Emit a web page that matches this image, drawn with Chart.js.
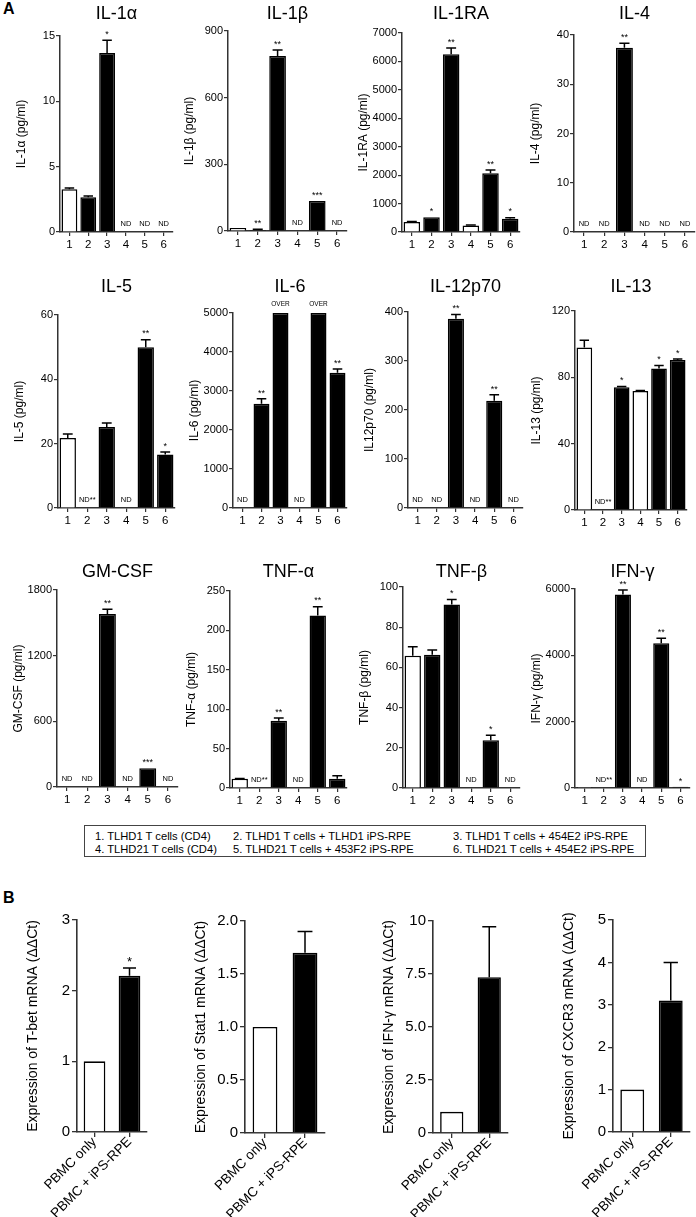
<!DOCTYPE html>
<html>
<head>
<meta charset="utf-8">
<script src="https://cdn.jsdelivr.net/npm/chart.js@4.4.1/dist/chart.umd.min.js"></script>
<style>
  html, body { margin: 0; padding: 0; background: #fff; }
  #figure { position: relative; width: 696px; height: 1217px; overflow: hidden; font-family: 'Liberation Sans', Arial, Helvetica, sans-serif; color: #000; }
  .panel-label { position: absolute; left: 3px; font-weight: bold; font-size: 16px; line-height: 16px; }
  #groupKey {
    position: absolute; left: 84px; top: 825px; width: 562px; height: 32px; box-sizing: border-box;
    border: 1px solid #444; padding: 4px 0 0 10px;
    display: grid; grid-template-columns: 138px 220px auto;
    font-size: 11.2px; line-height: 12px; white-space: nowrap;
  }
</style>
</head>
<body>
<div id="figure">
  <div class="panel-label" style="top:1px">A</div>
  <div class="panel-label" style="top:890px">B</div>
  <div id="groupKey"></div>
</div>
<script>
const FONT = "'Liberation Sans', Arial, Helvetica, sans-serif";
const AXIS = '#333';

// Panel A: cytokine secretion, groups 1-6 (null = ND)
const groups = ['1', '2', '3', '4', '5', '6'];
const groupNames = [
    '1. TLHD1 T cells (CD4)', '2. TLHD1 T cells + TLHD1 iPS-RPE', '3. TLHD1 T cells + 454E2 iPS-RPE',
    '4. TLHD21 T cells (CD4)', '5. TLHD21 T cells + 453F2 iPS-RPE', '6. TLHD21 T cells + 454E2 iPS-RPE'
];
const cytokines = ['IL-1α', 'IL-1β', 'IL-1RA', 'IL-4', 'IL-5', 'IL-6', 'IL-12p70', 'IL-13', 'GM-CSF', 'TNF-α', 'TNF-β', 'IFN-γ'];
const yTitles = ['IL-1α (pg/ml)', 'IL-1β (pg/ml)', 'IL-1RA (pg/ml)', 'IL-4 (pg/ml)', 'IL-5 (pg/ml)', 'IL-6 (pg/ml)',
    'IL12p70 (pg/ml)', 'IL-13 (pg/ml)', 'GM-CSF (pg/ml)', 'TNF-α (pg/ml)', 'TNF-β (pg/ml)', 'IFN-γ (pg/ml)'];
const yMax = [15, 900, 7000, 40, 60, 5000, 400, 120, 1800, 250, 100, 6000];
const yStep = [5, 300, 1000, 10, 20, 1000, 100, 40, 600, 50, 20, 2000];
const means = [
    [3.27, 2.66, 13.7, null, null, null],
    [13, 5, 787, null, 135, null],
    [350, 520, 6250, 230, 2070, 470],
    [null, null, 37.4, null, null, null],
    [21.8, null, 25.2, null, 50.0, 16.6],
    [null, 2670, 5000, null, 5000, 3470],
    [null, null, 386, null, 219, null],
    [98, null, 74, 71.8, 85.4, 90.5],
    [null, null, 1580, null, 172, null],
    [11.6, null, 85.3, null, 219, 11.6],
    [65.8, 66.3, 91.3, null, 23.8, null],
    [30, null, 5837, null, 4365, 35]
];
const sems = [
    [0.1, 0.1, 0.97, 0, 0, 0],
    [0, 3, 27, 0, 0, 0],
    [20, 0, 220, 20, 110, 30],
    [0, 0, 0.9, 0, 0, 0],
    [1.2, 0, 1.2, 0, 2.3, 0.8],
    [0, 130, 0, 0, 0, 95],
    [0, 0, 9, 0, 12, 0],
    [4.4, 0, 0.4, 0.2, 1.8, 0.6],
    [0, 0, 45, 0, 0, 0],
    [0.6, 0, 3.4, 0, 11, 4],
    [4.5, 2.4, 2.5, 0, 2.4, 0],
    [0, 0, 130, 0, 150, 0]
];
const marks = [
    ['', '', '*', 'ND', 'ND', 'ND'],
    ['', '**', '**', 'ND', '***', 'ND'],
    ['', '*', '**', '', '**', '*'],
    ['ND', 'ND', '**', 'ND', 'ND', 'ND'],
    ['', 'ND**', '', 'ND', '**', '*'],
    ['ND', '**', 'OVER', 'ND', 'OVER', '**'],
    ['ND', 'ND', '**', 'ND', '**', 'ND'],
    ['', 'ND**', '*', '', '*', '*'],
    ['ND', 'ND', '**', 'ND', '***', 'ND'],
    ['', 'ND**', '**', 'ND', '**', ''],
    ['', '', '*', 'ND', '*', 'ND'],
    ['', 'ND**', '**', 'ND', '**', '*']
];

// Panel B: mRNA expression
const conditions = ['PBMC only', 'PBMC + iPS-RPE'];
const geneTitles = ['Expression of T-bet mRNA (ΔΔCt)', 'Expression of Stat1 mRNA (ΔΔCt)',
    'Expression of IFN-γ mRNA (ΔΔCt)', 'Expression of CXCR3 mRNA (ΔΔCt)'];
const geneMeans = [[1, 2.21], [1, 1.7], [1, 7.35], [1, 3.1]];
const geneErrors = [[0, 0.11], [0, 0.2], [0, 2.38], [0, 0.9]];
const geneMarks = [['', '*'], ['', ''], ['', ''], ['', '']];
const geneMax = [3, 2, 10, 5];
const geneStep = [1, 0.5, 2.5, 1];

// bar fills: T cells alone open, co-cultures filled
const groupFill = ['#ffffff', '#000000', '#000000', '#ffffff', '#000000', '#000000'];
const conditionFill = ['#ffffff', '#000000'];

const cytokineFrames = [
    [60, 36, 232, 173, 14], [228, 31, 231, 347, 14], [402, 33, 232, 520, 14], [574, 35, 232, 695, 14],
    [58, 315, 508, 175, 287], [233, 313, 508, 347, 287], [408, 312, 508, 523, 287], [575, 311, 510, 687, 287],
    [57, 590, 787, 178, 572], [230, 591, 788, 347, 572], [403, 587, 788, 520, 572], [575, 589, 788, 690, 572]
];
const geneFrames = [[77, 920, 1132, 147], [245, 921, 1133, 325], [433, 921, 1133, 508], [613, 920, 1132, 690]];

Chart.defaults.font.family = FONT;
Chart.defaults.color = '#000';

// legend box
const key = document.getElementById('groupKey');
[0, 1, 2, 3, 4, 5].forEach(i => {
    const s = document.createElement('span');
    s.textContent = groupNames[i];
    key.appendChild(s);
});

function plotFrame(left, top, width, height) {
    const canvas = document.createElement('canvas');
    canvas.width = width;
    canvas.height = height;
    canvas.style.cssText = `position:absolute;left:${left}px;top:${top}px;width:${width}px;height:${height}px`;
    document.getElementById('figure').appendChild(canvas);
    return canvas;
}

// error bars (upper only) + ND / significance labels
function marksPlugin(meanList, errList, markList, sizes) {
    return {
        id: 'figureMarks',
        afterDatasetsDraw(chart) {
            const { ctx } = chart;
            const xs = chart.scales.x, ys = chart.scales.y;
            const meta = chart.getDatasetMeta(0);
            const zero = ys.getPixelForValue(0);
            ctx.save();
            ctx.fillStyle = '#000';
            ctx.strokeStyle = '#000';
            ctx.lineWidth = 1.5;
            ctx.textAlign = 'center';
            meanList.forEach((m, i) => {
                const x = xs.getPixelForValue(i);
                let top = m == null ? zero : ys.getPixelForValue(m);
                if (m != null && errList[i] > 0) {
                    const yErr = ys.getPixelForValue(m + errList[i]);
                    const cap = meta.data[i].width * 0.3;
                    ctx.beginPath();
                    ctx.moveTo(x, top);
                    ctx.lineTo(x, yErr);
                    ctx.moveTo(x - cap, yErr);
                    ctx.lineTo(x + cap, yErr);
                    ctx.stroke();
                    top = yErr;
                }
                const mark = markList[i];
                if (!mark) return;
                if (mark.startsWith('ND')) {
                    ctx.font = `${sizes.nd}px ${FONT}`;
                    ctx.textBaseline = 'middle';
                    ctx.fillText(mark, x, zero - 8);
                } else if (mark === 'OVER') {
                    ctx.font = `${sizes.over}px ${FONT}`;
                    ctx.textBaseline = 'middle';
                    ctx.fillText(mark, x, top - 9);
                } else {
                    ctx.font = `${sizes.star}px ${FONT}`;
                    ctx.textBaseline = 'alphabetic';
                    ctx.fillText(mark, x, top + sizes.star * 0.3 - 6);
                }
            });
            ctx.restore();
        }
    };
}

// Panel A charts
cytokines.forEach((name, k) => {
    const [ax, top, bottom, right, titleY] = cytokineFrames[k];
    const yw = 52, xh = 22;
    const cTop = titleY - 11;
    const canvas = plotFrame(ax - yw, cTop, right - ax + yw + 1, bottom - cTop + xh);
    new Chart(canvas, {
        type: 'bar',
        data: {
            labels: groups,
            datasets: [{
                data: means[k],
                backgroundColor: groupFill,
                borderColor: '#000',
                borderWidth: 1.5,
                borderSkipped: 'bottom',
                barPercentage: 0.84,
                categoryPercentage: 1
            }]
        },
        options: {
            responsive: false,
            animation: false,
            events: [],
            layout: { padding: { top: 0, left: 0, right: 1, bottom: 0 } },
            plugins: {
                legend: { display: false },
                tooltip: { enabled: false },
                title: {
                    display: true,
                    text: name,
                    fullSize: false,
                    color: '#000',
                    font: { family: FONT, size: 18, weight: 'normal' },
                    padding: { top: 0, bottom: top - cTop - 21.6 }
                }
            },
            scales: {
                x: {
                    afterFit: s => { s.height = xh; },
                    grid: { offset: false, drawOnChartArea: false, tickLength: 4, color: AXIS, lineWidth: 1.2 },
                    border: { color: AXIS, width: 1.5 },
                    ticks: { color: '#000', padding: 2, font: { family: FONT, size: 11.5 } }
                },
                y: {
                    min: 0,
                    max: yMax[k],
                    afterFit: s => { s.width = yw; },
                    grid: { drawOnChartArea: false, tickLength: 4, color: AXIS, lineWidth: 1.2 },
                    border: { color: AXIS, width: 1.5 },
                    ticks: { stepSize: yStep[k], color: '#000', padding: 1, font: { family: FONT, size: 11 }, callback: v => String(v) },
                    title: { display: true, text: yTitles[k], color: '#000', font: { family: FONT, size: 12 }, padding: { top: 6.8, bottom: 0 } }
                }
            }
        },
        plugins: [marksPlugin(means[k], sems[k], marks[k], { nd: 7.5, over: 6.5, star: 9 })]
    });
});

// Panel B charts
const fmtGene = step => v => {
    if (v === 0) return '0';
    if (Number.isInteger(step)) return String(v);
    return v >= 10 ? String(v) : v.toFixed(1);
};

geneTitles.forEach((title, k) => {
    const [ax, top, bottom, right] = geneFrames[k];
    const yw = 58, xh = 85, padTop = 12;
    const cTop = top - padTop;
    const canvas = plotFrame(ax - yw, cTop, right - ax + yw + 2, bottom - cTop + xh);
    new Chart(canvas, {
        type: 'bar',
        data: {
            labels: conditions,
            datasets: [{
                data: geneMeans[k],
                backgroundColor: conditionFill,
                borderColor: '#000',
                borderWidth: 1.6,
                borderSkipped: 'bottom',
                barPercentage: 0.62,
                categoryPercentage: 1
            }]
        },
        options: {
            responsive: false,
            animation: false,
            events: [],
            layout: { padding: { top: padTop, left: 0, right: 2, bottom: 0 } },
            plugins: { legend: { display: false }, tooltip: { enabled: false } },
            scales: {
                x: {
                    afterFit: s => { s.height = xh; },
                    grid: { offset: false, drawOnChartArea: false, tickLength: 5, color: AXIS, lineWidth: 1.3 },
                    border: { color: AXIS, width: 1.6 },
                    ticks: { color: '#000', padding: -3, minRotation: 45, maxRotation: 45, autoSkip: false, font: { family: FONT, size: 13.5 } }
                },
                y: {
                    min: 0,
                    max: geneMax[k],
                    afterFit: s => { s.width = yw; },
                    grid: { drawOnChartArea: false, tickLength: 5, color: AXIS, lineWidth: 1.3 },
                    border: { color: AXIS, width: 1.6 },
                    ticks: { stepSize: geneStep[k], color: '#000', padding: 2, font: { family: FONT, size: 15 }, callback: fmtGene(geneStep[k]) },
                    title: { display: true, text: title, color: '#000', font: { family: FONT, size: 14 }, padding: { top: 5.6, bottom: 0 } }
                }
            }
        },
        plugins: [marksPlugin(geneMeans[k], geneErrors[k], geneMarks[k], { nd: 9, over: 9, star: 13 })]
    });
});
</script>
</body>
</html>
